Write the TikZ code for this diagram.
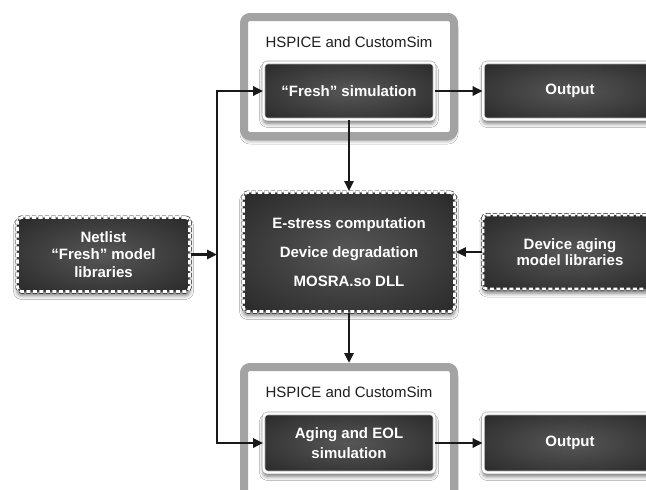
\documentclass[tikz,border=0pt]{standalone}
\usepackage{fontspec}
\setmainfont{Liberation Sans}
\usetikzlibrary{arrows.meta,shadows.blur}
\colorlet{boxin}{black!66}
\colorlet{boxmid}{black!80}
\colorlet{boxout}{black!91}
\pgfdeclareradialshading{darkbox}{\pgfpoint{0bp}{0bp}}{color(0bp)=(boxin); color(28bp)=(boxmid); color(50bp)=(boxout)}
\tikzset{
  shad/.style={blur shadow={shadow xshift=0pt, shadow yshift=-4pt, shadow blur radius=4pt, shadow opacity=55}},
  darkbase/.style={shade, shading=darkbox, rounded corners=4pt, text=white,
    font=\bfseries\fontsize{15}{17.5}\selectfont, align=center, inner sep=0pt, shad},
  solidbox/.style={darkbase, draw=black!35, double=white, double distance=2.4pt, line width=0.6pt},
  dashbox/.style={darkbase, preaction={draw=black!90, line width=4pt}, draw=white, line width=2.8pt, dash pattern=on 4.2pt off 2.3pt},
  frame/.style={draw=black!36, line width=8pt, fill=white, rounded corners=6pt, shad, inner sep=0pt},
  header/.style={font=\fontsize{15}{18}\selectfont, text=black!88, inner sep=0pt},
  arr/.style={-{Triangle[length=10pt,width=9pt]}, line width=2.6pt, draw=black!90},
}
\begin{document}
\begin{tikzpicture}[x=1pt,y=-1pt]
\useasboundingbox (0,0) rectangle (646,490);
\clip (0,0) rectangle (646,490);
\fill[white] (0,0) rectangle (646,490);

% frames
\node[frame, minimum width=210pt, minimum height=119pt] (frame1) at (349,76.5) {};
\node[frame, minimum width=210pt, minimum height=140pt] (frame2) at (349,437) {};
\node[header] (h1) at (349,42) {HSPICE and CustomSim};
\node[header] (h2) at (349,392) {HSPICE and CustomSim};

% boxes
\node[solidbox, minimum width=171pt, minimum height=57pt] (fresh) at (349,91) {“Fresh” simulation};
\node[solidbox, minimum width=174pt, minimum height=57pt] (out1) at (570,91) {Output};
\node[dashbox, minimum width=211pt, minimum height=119pt, font=\bfseries\fontsize{15}{29}\selectfont] (mid) at (349,252)
  {E-stress computation\\Device degradation\\MOSRA.so DLL};
\node[dashbox, minimum width=172pt, minimum height=74pt] (net) at (103.5,254.5) {Netlist\\“Fresh” model\\libraries};
\node[dashbox, minimum width=174pt, minimum height=74pt, font=\bfseries\fontsize{15}{16.5}\selectfont] (dev) at (570,252) {Device aging\\model libraries};
\node[solidbox, minimum width=171pt, minimum height=59pt, font=\bfseries\fontsize{15}{20}\selectfont] (aging) at (349,443) {Aging and EOL\\simulation};
\node[solidbox, minimum width=174pt, minimum height=59pt] (out2) at (570,443) {Output};

% connectors
\coordinate (vmid) at (217,254.5);
\draw[arr] (net.east) -- (vmid);
\draw[arr] (vmid) |- (fresh.west);
\draw[arr] (vmid) |- (aging.west);
\draw[arr] (fresh.east) -- (out1.west);
\draw[arr] (aging.east) -- (out2.west);
\draw[arr] (fresh.south) -- (mid.north);
\draw[arr] (dev.west) -- (mid.east);
\draw[arr] (mid.south) -- (frame2.north);
\end{tikzpicture}
\end{document}
